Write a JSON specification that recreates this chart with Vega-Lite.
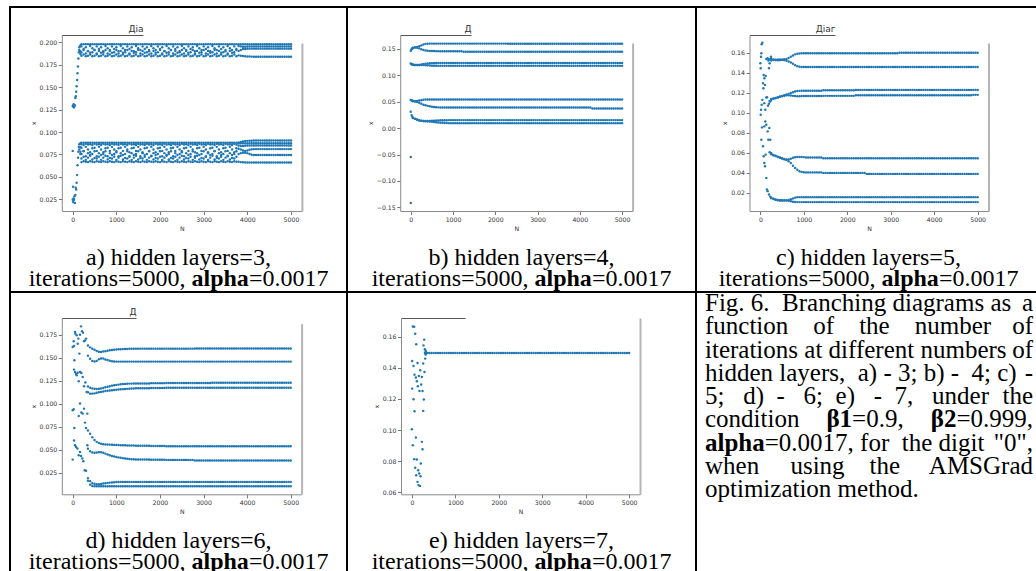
{
"$schema":"https://vega.github.io/schema/vega-lite/v6.json",
"background":"white",
"padding":{"left":9,"top":6,"right":0,"bottom":0},
"columns":3,"spacing":0,"bounds":"flush",
"datasets":{
"A":[
{"n":0,"a":0.129,"e":0.079,"f":0.0245},{"n":10,"a":0.1285,"e":0.039,"f":0.022},{"n":20,"a":0.131,"e":0.026},{"n":30,"a":0.1275,"e":0.0245},{"n":40,"a":0.13,"e":0.0285},{"n":50,"a":0.1295,"e":0.021},{"n":60,"a":0.138,"e":0.03},{"n":70,"a":0.14,"e":0.038},{"n":80,"a":0.145,"e":0.036},{"n":90,"a":0.151,"e":0.0435},{"n":100,"a":0.158,"e":0.052},{"n":110,"a":0.1655,"e":0.063},{"n":120,"a":0.173,"e":0.0715},{"n":130,"a":0.182,"e":0.078},{"n":140,"a":0.189,"e":0.0835},
{"n":150,"a":0.1945,"b":0.1915,"e":0.0865,"f":0.0805},
{"n":175,"a":0.1965,"b":0.19,"c":0.187,"e":0.0875,"f":0.083,"g":0.078,"h":0.0755},
{"n":200,"a":0.198,"b":0.1955,"c":0.189,"d":0.185,"e":0.088,"f":0.0865,"g":0.0825,"h":0.0755,"i":0.0705,"j":0.0665},
{"n":250,"a":0.198,"b":0.1925,"c":0.1915,"d":0.1865,"e":0.088,"f":0.0855,"g":0.079,"h":0.0785,"i":0.0725,"j":0.0675},
{"n":300,"a":0.198,"b":0.1945,"c":0.1875,"d":0.1845,"e":0.088,"f":0.087,"g":0.0835,"h":0.073,"i":0.069,"j":0.067},
{"n":350,"a":0.198,"b":0.19,"c":0.1905,"d":0.185,"e":0.088,"f":0.086,"g":0.0805,"h":0.0765,"i":0.0715,"j":0.0665},
{"n":400,"a":0.198,"b":0.196,"c":0.1885,"d":0.1865,"e":0.088,"f":0.0865,"g":0.0775,"h":0.0745,"i":0.0735,"j":0.0675},
{"n":450,"a":0.198,"b":0.1935,"c":0.189,"d":0.1845,"e":0.088,"f":0.0855,"g":0.082,"h":0.0755,"i":0.0695,"j":0.067},
{"n":500,"a":0.198,"b":0.1915,"c":0.1915,"d":0.185,"e":0.088,"f":0.087,"g":0.0825,"h":0.0785,"i":0.071,"j":0.0665},
{"n":550,"a":0.198,"b":0.1955,"c":0.1875,"d":0.1865,"e":0.088,"f":0.086,"g":0.079,"h":0.073,"i":0.0705,"j":0.0675},
{"n":600,"a":0.198,"b":0.1925,"c":0.1905,"d":0.1845,"e":0.088,"f":0.0865,"g":0.0835,"h":0.0765,"i":0.0725,"j":0.067},
{"n":650,"a":0.198,"b":0.1945,"c":0.1885,"d":0.185,"e":0.088,"f":0.0855,"g":0.0805,"h":0.0745,"i":0.069,"j":0.0665},
{"n":700,"a":0.198,"b":0.19,"c":0.189,"d":0.1865,"e":0.088,"f":0.087,"g":0.0775,"h":0.0755,"i":0.0715,"j":0.0675},
{"n":750,"a":0.198,"b":0.196,"c":0.1915,"d":0.1845,"e":0.088,"f":0.086,"g":0.082,"h":0.0785,"i":0.0735,"j":0.067},
{"n":800,"a":0.198,"b":0.1935,"c":0.1875,"d":0.185,"e":0.088,"f":0.0865,"g":0.0825,"h":0.073,"i":0.0695,"j":0.0665},
{"n":850,"a":0.198,"b":0.1915,"c":0.1905,"d":0.1865,"e":0.088,"f":0.0855,"g":0.079,"h":0.0765,"i":0.071,"j":0.0675},
{"n":900,"a":0.198,"b":0.1955,"c":0.1885,"d":0.1845,"e":0.088,"f":0.087,"g":0.0835,"h":0.0745,"i":0.0705,"j":0.067},
{"n":950,"a":0.198,"b":0.1925,"c":0.189,"d":0.185,"e":0.088,"f":0.086,"g":0.0805,"h":0.0755,"i":0.0725,"j":0.0665},
{"n":1000,"a":0.198,"b":0.1945,"c":0.1915,"d":0.1865,"e":0.088,"f":0.0865,"g":0.0775,"h":0.0785,"i":0.069,"j":0.0675},
{"n":1050,"a":0.198,"b":0.19,"c":0.1875,"d":0.1845,"e":0.088,"f":0.0855,"g":0.082,"h":0.073,"i":0.0715,"j":0.067},
{"n":1100,"a":0.198,"b":0.196,"c":0.1905,"d":0.185,"e":0.088,"f":0.087,"g":0.0825,"h":0.0765,"i":0.0735,"j":0.0665},
{"n":1150,"a":0.198,"b":0.1935,"c":0.1885,"d":0.1865,"e":0.088,"f":0.086,"g":0.079,"h":0.0745,"i":0.0695,"j":0.0675},
{"n":1200,"a":0.198,"b":0.1915,"c":0.189,"d":0.1845,"e":0.088,"f":0.0865,"g":0.0835,"h":0.0755,"i":0.071,"j":0.067},
{"n":1250,"a":0.198,"b":0.1955,"c":0.1915,"d":0.185,"e":0.088,"f":0.0855,"g":0.0805,"h":0.0785,"i":0.0705,"j":0.0665},
{"n":1300,"a":0.198,"b":0.1925,"c":0.1875,"d":0.1865,"e":0.088,"f":0.087,"g":0.0775,"h":0.073,"i":0.0725,"j":0.0675},
{"n":1350,"a":0.198,"b":0.1945,"c":0.1905,"d":0.1845,"e":0.088,"f":0.086,"g":0.082,"h":0.0765,"i":0.069,"j":0.067},
{"n":1400,"a":0.198,"b":0.19,"c":0.1885,"d":0.185,"e":0.088,"f":0.0865,"g":0.0825,"h":0.0745,"i":0.0715,"j":0.0665},
{"n":1450,"a":0.198,"b":0.196,"c":0.189,"d":0.1865,"e":0.088,"f":0.0855,"g":0.079,"h":0.0755,"i":0.0735,"j":0.0675},
{"n":1500,"a":0.198,"b":0.1935,"c":0.1915,"d":0.1845,"e":0.088,"f":0.087,"g":0.0835,"h":0.0785,"i":0.0695,"j":0.067},
{"n":1550,"a":0.198,"b":0.1915,"c":0.1875,"d":0.185,"e":0.088,"f":0.086,"g":0.0805,"h":0.073,"i":0.071,"j":0.0665},
{"n":1600,"a":0.198,"b":0.1955,"c":0.1905,"d":0.1865,"e":0.088,"f":0.0865,"g":0.0775,"h":0.0765,"i":0.0705,"j":0.0675},
{"n":1650,"a":0.198,"b":0.1925,"c":0.1885,"d":0.1845,"e":0.088,"f":0.0855,"g":0.082,"h":0.0745,"i":0.0725,"j":0.067},
{"n":1700,"a":0.198,"b":0.1945,"c":0.189,"d":0.185,"e":0.088,"f":0.087,"g":0.0825,"h":0.0755,"i":0.069,"j":0.0665},
{"n":1750,"a":0.198,"b":0.19,"c":0.1915,"d":0.1865,"e":0.088,"f":0.086,"g":0.079,"h":0.0785,"i":0.0715,"j":0.0675},
{"n":1800,"a":0.198,"b":0.196,"c":0.1875,"d":0.1845,"e":0.088,"f":0.0865,"g":0.0835,"h":0.073,"i":0.0735,"j":0.067},
{"n":1850,"a":0.198,"b":0.1935,"c":0.1905,"d":0.185,"e":0.088,"f":0.0855,"g":0.0805,"h":0.0765,"i":0.0695,"j":0.0665},
{"n":1900,"a":0.198,"b":0.1915,"c":0.1885,"d":0.1865,"e":0.088,"f":0.087,"g":0.0775,"h":0.0745,"i":0.071,"j":0.0675},
{"n":1950,"a":0.198,"b":0.1955,"c":0.189,"d":0.1845,"e":0.088,"f":0.086,"g":0.082,"h":0.0755,"i":0.0705,"j":0.067},
{"n":2000,"a":0.198,"b":0.1925,"c":0.1915,"d":0.185,"e":0.088,"f":0.0865,"g":0.0825,"h":0.0785,"i":0.0725,"j":0.0665},
{"n":2050,"a":0.198,"b":0.1945,"c":0.1875,"d":0.1865,"e":0.088,"f":0.0855,"g":0.079,"h":0.073,"i":0.069,"j":0.0675},
{"n":2100,"a":0.198,"b":0.19,"c":0.1905,"d":0.1845,"e":0.088,"f":0.087,"g":0.0835,"h":0.0765,"i":0.0715,"j":0.067},
{"n":2150,"a":0.198,"b":0.196,"c":0.1885,"d":0.185,"e":0.088,"f":0.086,"g":0.0805,"h":0.0745,"i":0.0735,"j":0.0665},
{"n":2200,"a":0.198,"b":0.1935,"c":0.189,"d":0.1865,"e":0.088,"f":0.0865,"g":0.0775,"h":0.0755,"i":0.0695,"j":0.0675},
{"n":2250,"a":0.198,"b":0.1915,"c":0.1915,"d":0.1845,"e":0.088,"f":0.0855,"g":0.082,"h":0.0785,"i":0.071,"j":0.067},
{"n":2300,"a":0.198,"b":0.1955,"c":0.1875,"d":0.185,"e":0.088,"f":0.087,"g":0.0825,"h":0.073,"i":0.0705,"j":0.0665},
{"n":2350,"a":0.198,"b":0.1925,"c":0.1905,"d":0.1865,"e":0.088,"f":0.086,"g":0.079,"h":0.0765,"i":0.0725,"j":0.0675},
{"n":2400,"a":0.198,"b":0.1945,"c":0.1885,"d":0.1845,"e":0.088,"f":0.0865,"g":0.0835,"h":0.0745,"i":0.069,"j":0.067},
{"n":2450,"a":0.198,"b":0.19,"c":0.189,"d":0.185,"e":0.088,"f":0.0855,"g":0.0805,"h":0.0755,"i":0.0715,"j":0.0665},
{"n":2500,"a":0.198,"b":0.196,"c":0.1915,"d":0.1865,"e":0.088,"f":0.087,"g":0.0775,"h":0.0785,"i":0.0735,"j":0.0675},
{"n":2550,"a":0.198,"b":0.1935,"c":0.1875,"d":0.1845,"e":0.088,"f":0.086,"g":0.082,"h":0.073,"i":0.0695,"j":0.067},
{"n":2600,"a":0.198,"b":0.1915,"c":0.1905,"d":0.185,"e":0.088,"f":0.0865,"g":0.0825,"h":0.0765,"i":0.071,"j":0.0665},
{"n":2650,"a":0.198,"b":0.1955,"c":0.1885,"d":0.1865,"e":0.088,"f":0.0855,"g":0.079,"h":0.0745,"i":0.0705,"j":0.0675},
{"n":2700,"a":0.198,"b":0.1925,"c":0.189,"d":0.1845,"e":0.088,"f":0.087,"g":0.0835,"h":0.0755,"i":0.0725,"j":0.067},
{"n":2750,"a":0.198,"b":0.1945,"c":0.1915,"d":0.185,"e":0.088,"f":0.086,"g":0.0805,"h":0.0785,"i":0.069,"j":0.0665},
{"n":2800,"a":0.198,"b":0.19,"c":0.1875,"d":0.1865,"e":0.088,"f":0.0865,"g":0.0775,"h":0.073,"i":0.0715,"j":0.0675},
{"n":2850,"a":0.198,"b":0.196,"c":0.1905,"d":0.1845,"e":0.088,"f":0.0855,"g":0.082,"h":0.0765,"i":0.0735,"j":0.067},
{"n":2900,"a":0.198,"b":0.1935,"c":0.1885,"d":0.185,"e":0.088,"f":0.087,"g":0.0825,"h":0.0745,"i":0.0695,"j":0.0665},
{"n":2950,"a":0.198,"b":0.1915,"c":0.189,"d":0.1865,"e":0.088,"f":0.086,"g":0.079,"h":0.0755,"i":0.071,"j":0.0675},
{"n":3000,"a":0.198,"b":0.1955,"c":0.1915,"d":0.1845,"e":0.088,"f":0.0865,"g":0.0835,"h":0.0785,"i":0.0705,"j":0.067},
{"n":3050,"a":0.198,"b":0.1925,"c":0.1875,"d":0.185,"e":0.088,"f":0.0855,"g":0.0805,"h":0.073,"i":0.0725,"j":0.0665},
{"n":3100,"a":0.198,"b":0.1945,"c":0.1905,"d":0.1865,"e":0.088,"f":0.087,"g":0.0775,"h":0.0765,"i":0.069,"j":0.0675},
{"n":3150,"a":0.198,"b":0.19,"c":0.1885,"d":0.1845,"e":0.088,"f":0.086,"g":0.082,"h":0.0745,"i":0.0715,"j":0.067},
{"n":3200,"a":0.198,"b":0.196,"c":0.189,"d":0.185,"e":0.088,"f":0.0865,"g":0.0825,"h":0.0755,"i":0.0735,"j":0.0665},
{"n":3250,"a":0.198,"b":0.1935,"c":0.1915,"d":0.1865,"e":0.088,"f":0.0855,"g":0.079,"h":0.0785,"i":0.0695,"j":0.0675},
{"n":3300,"a":0.198,"b":0.1915,"c":0.1875,"d":0.1845,"e":0.088,"f":0.087,"g":0.0835,"h":0.073,"i":0.071,"j":0.067},
{"n":3350,"a":0.198,"b":0.1955,"c":0.1905,"d":0.185,"e":0.088,"f":0.086,"g":0.0805,"h":0.0765,"i":0.0705,"j":0.0665},
{"n":3400,"a":0.198,"b":0.1925,"c":0.1885,"d":0.1865,"e":0.088,"f":0.0865,"g":0.0775,"h":0.0745,"i":0.0725,"j":0.0675},
{"n":3450,"a":0.198,"b":0.1945,"c":0.189,"d":0.1845,"e":0.088,"f":0.0855,"g":0.082,"h":0.0755,"i":0.069,"j":0.067},
{"n":3500,"a":0.198,"b":0.19,"c":0.1915,"d":0.185,"e":0.088,"f":0.087,"g":0.0825,"h":0.0785,"i":0.0715,"j":0.0665},
{"n":3550,"a":0.198,"b":0.196,"c":0.1875,"d":0.1865,"e":0.088,"f":0.086,"g":0.079,"h":0.073,"i":0.0735,"j":0.0675},
{"n":3600,"a":0.198,"b":0.1935,"c":0.1905,"d":0.1845,"e":0.088,"f":0.0865,"g":0.0835,"h":0.0765,"i":0.0695,"j":0.067},
{"n":3650,"a":0.198,"b":0.1915,"c":0.1885,"d":0.185,"e":0.088,"f":0.0855,"g":0.0805,"h":0.0745,"i":0.071,"j":0.0665},
{"n":3700,"a":0.198,"b":0.1955,"c":0.189,"d":0.1865,"e":0.088,"f":0.087,"g":0.0775,"h":0.0755,"i":0.0705,"j":0.0675},
{"n":3750,"a":0.198,"b":0.1925,"c":0.1915,"d":0.1845,"e":0.088,"f":0.086,"g":0.082,"h":0.0785,"i":0.0725,"j":0.067},
{"n":3800,"a":0.198,"b":0.196,"c":0.1905,"d":0.1855,"e":0.0885,"f":0.0875,"g":0.085,"h":0.0815,"i":0.0755,"j":0.067},
{"n":3850,"a":0.198,"b":0.1955,"c":0.1915,"d":0.185,"e":0.089,"f":0.0875,"g":0.0845,"h":0.0805,"i":0.0765,"j":0.0665},
{"n":3900,"a":0.198,"b":0.195,"c":0.1925,"d":0.1848,"e":0.0895,"f":0.0875,"g":0.0845,"h":0.0795,"i":0.077,"j":0.0663},
{"n":3950,"a":0.198,"b":0.195,"c":0.1925,"d":0.1845,"e":0.09,"f":0.0875,"g":0.0848,"h":0.079,"i":0.077,"j":0.0662},
{"n":4000,"a":0.198,"b":0.1953,"c":0.1928,"d":0.1843,"e":0.0902,"f":0.0875,"g":0.085,"h":0.0795,"i":0.0765,"j":0.0661},
{"n":4050,"a":0.198,"b":0.1955,"c":0.193,"d":0.1842,"e":0.0903,"f":0.0875,"g":0.085,"h":0.0802,"i":0.0755,"j":0.066},
{"n":4100,"a":0.198,"b":0.1955,"c":0.193,"d":0.1841,"e":0.0904,"f":0.0875,"g":0.085,"h":0.0808,"i":0.0748,"j":0.066},
{"n":4150,"a":0.198,"b":0.1955,"c":0.193,"d":0.184,"e":0.0905,"f":0.0875,"g":0.085,"h":0.081,"i":0.0745,"j":0.066},
{"n":4200,"a":0.198,"b":0.1955,"c":0.193,"d":0.184,"e":0.0905,"f":0.0875,"g":0.085,"h":0.081,"i":0.0745,"j":0.066},
{"n":4250,"a":0.198,"b":0.1955,"c":0.193,"d":0.184,"e":0.0905,"f":0.0875,"g":0.085,"h":0.081,"i":0.0745,"j":0.066},
{"n":4300,"a":0.198,"b":0.1955,"c":0.193,"d":0.184,"e":0.0905,"f":0.0875,"g":0.085,"h":0.081,"i":0.0745,"j":0.066},
{"n":4350,"a":0.198,"b":0.1955,"c":0.193,"d":0.184,"e":0.0905,"f":0.0875,"g":0.085,"h":0.081,"i":0.0745,"j":0.066},
{"n":4400,"a":0.198,"b":0.1955,"c":0.193,"d":0.184,"e":0.0905,"f":0.0875,"g":0.085,"h":0.081,"i":0.0745,"j":0.066},
{"n":4450,"a":0.198,"b":0.1955,"c":0.193,"d":0.184,"e":0.0905,"f":0.0875,"g":0.085,"h":0.081,"i":0.0745,"j":0.066},
{"n":4500,"a":0.198,"b":0.1955,"c":0.193,"d":0.184,"e":0.0905,"f":0.0875,"g":0.085,"h":0.081,"i":0.0745,"j":0.066},
{"n":4550,"a":0.198,"b":0.1955,"c":0.193,"d":0.184,"e":0.0905,"f":0.0875,"g":0.085,"h":0.081,"i":0.0745,"j":0.066},
{"n":4600,"a":0.198,"b":0.1955,"c":0.193,"d":0.184,"e":0.0905,"f":0.0875,"g":0.085,"h":0.081,"i":0.0745,"j":0.066},
{"n":4650,"a":0.198,"b":0.1955,"c":0.193,"d":0.184,"e":0.0905,"f":0.0875,"g":0.085,"h":0.081,"i":0.0745,"j":0.066},
{"n":4700,"a":0.198,"b":0.1955,"c":0.193,"d":0.184,"e":0.0905,"f":0.0875,"g":0.085,"h":0.081,"i":0.0745,"j":0.066},
{"n":4750,"a":0.198,"b":0.1955,"c":0.193,"d":0.184,"e":0.0905,"f":0.0875,"g":0.085,"h":0.081,"i":0.0745,"j":0.066},
{"n":4800,"a":0.198,"b":0.1955,"c":0.193,"d":0.184,"e":0.0905,"f":0.0875,"g":0.085,"h":0.081,"i":0.0745,"j":0.066},
{"n":4850,"a":0.198,"b":0.1955,"c":0.193,"d":0.184,"e":0.0905,"f":0.0875,"g":0.085,"h":0.081,"i":0.0745,"j":0.066},
{"n":4900,"a":0.198,"b":0.1955,"c":0.193,"d":0.184,"e":0.0905,"f":0.0875,"g":0.085,"h":0.081,"i":0.0745,"j":0.066},
{"n":4950,"a":0.198,"b":0.1955,"c":0.193,"d":0.184,"e":0.0905,"f":0.0875,"g":0.085,"h":0.081,"i":0.0745,"j":0.066},
{"n":5000,"a":0.198,"b":0.1955,"c":0.193,"d":0.184,"e":0.0905,"f":0.0875,"g":0.085,"h":0.081,"i":0.0745,"j":0.066}
],
"B":[
{"n":0,"a":0.1468,"c":0.1225,"e":0.0532,"g":0.031,"b":-0.0545,"d":-0.1418},
{"n":20,"a":0.1494,"c":0.121,"e":0.0525,"g":0.0247},
{"n":40,"a":0.151,"c":0.1205,"e":0.052,"g":0.0215},
{"n":50,"a":0.1522,"b":0.1518,"c":0.1202,"d":0.12,"e":0.0515,"f":0.0512,"g":0.0195,"h":0.0193},
{"n":100,"a":0.1532,"b":0.1526,"c":0.1198,"d":0.1196,"e":0.051,"f":0.0505,"g":0.0178,"h":0.0176},
{"n":150,"a":0.1538,"b":0.1522,"c":0.1196,"d":0.1195,"e":0.0515,"f":0.0495,"g":0.0162,"h":0.016},
{"n":200,"a":0.155,"b":0.1512,"c":0.1198,"d":0.1195,"e":0.0522,"f":0.048,"g":0.0148,"h":0.0146},
{"n":250,"a":0.1568,"b":0.1495,"c":0.1205,"d":0.1197,"e":0.053,"f":0.0462,"g":0.0141,"h":0.0138},
{"n":300,"a":0.1585,"b":0.1482,"c":0.1215,"d":0.1196,"e":0.0537,"f":0.0445,"g":0.0137,"h":0.0134},
{"n":350,"a":0.1597,"b":0.1472,"c":0.1222,"d":0.1193,"e":0.0542,"f":0.0432,"g":0.0135,"h":0.0131},
{"n":400,"a":0.1601,"b":0.1466,"c":0.1227,"d":0.119,"e":0.0543,"f":0.0422,"g":0.0136,"h":0.0128},
{"n":450,"a":0.1602,"b":0.1463,"c":0.123,"d":0.1187,"e":0.0544,"f":0.0414,"g":0.0138,"h":0.0124},
{"n":500,"a":0.1602,"b":0.1461,"c":0.1232,"d":0.1184,"e":0.0544,"f":0.0407,"g":0.014,"h":0.012},
{"n":550,"a":0.1602,"b":0.146,"c":0.1233,"d":0.1182,"e":0.0544,"f":0.0401,"g":0.0142,"h":0.0116},
{"n":600,"a":0.1602,"b":0.1459,"c":0.1233,"d":0.1181,"e":0.0544,"f":0.0397,"g":0.0144,"h":0.0112},
{"n":650,"a":0.1602,"b":0.1459,"c":0.1234,"d":0.118,"e":0.0544,"f":0.0394,"g":0.0146,"h":0.0108},
{"n":700,"a":0.1602,"b":0.1458,"c":0.1234,"d":0.118,"e":0.0544,"f":0.0392,"g":0.0148,"h":0.0104},
{"n":750,"a":0.1602,"b":0.1458,"c":0.1234,"d":0.118,"e":0.0544,"f":0.0391,"g":0.0149,"h":0.0101},
{"n":800,"a":0.1602,"b":0.1458,"c":0.1234,"d":0.118,"e":0.0544,"f":0.039,"g":0.015,"h":0.0098},
{"n":850,"a":0.1602,"b":0.1458,"c":0.1234,"d":0.118,"e":0.0544,"f":0.039,"g":0.0151,"h":0.0096},
{"n":900,"a":0.1602,"b":0.1457,"c":0.1234,"d":0.118,"e":0.0544,"f":0.039,"g":0.0152,"h":0.0095},
{"n":950,"a":0.1602,"b":0.1457,"c":0.1234,"d":0.118,"e":0.0544,"f":0.039,"g":0.0152,"h":0.0095},
{"n":1000,"a":0.1602,"b":0.1457,"c":0.1234,"d":0.118,"e":0.0544,"f":0.039,"g":0.0152,"h":0.0095},
{"n":1050,"a":0.1602,"b":0.1457,"c":0.1234,"d":0.118,"e":0.0544,"f":0.039,"g":0.0152,"h":0.0095},
{"n":1100,"a":0.1602,"b":0.1457,"c":0.1234,"d":0.118,"e":0.0544,"f":0.039,"g":0.0152,"h":0.0095},
{"n":1150,"a":0.1602,"b":0.1457,"c":0.1234,"d":0.118,"e":0.0544,"f":0.039,"g":0.0152,"h":0.0095},
{"n":1200,"a":0.1602,"b":0.1457,"c":0.1234,"d":0.118,"e":0.0544,"f":0.039,"g":0.0152,"h":0.0095},
{"n":1250,"a":0.1602,"b":0.1447,"c":0.1234,"d":0.118,"e":0.0544,"f":0.039,"g":0.0152,"h":0.0095},
{"n":1300,"a":0.1602,"b":0.1447,"c":0.1234,"d":0.118,"e":0.0544,"f":0.039,"g":0.0152,"h":0.0095},
{"n":1350,"a":0.1602,"b":0.1447,"c":0.1234,"d":0.118,"e":0.0544,"f":0.039,"g":0.0152,"h":0.0095},
{"n":1400,"a":0.1602,"b":0.1447,"c":0.1234,"d":0.118,"e":0.0544,"f":0.039,"g":0.0152,"h":0.0095},
{"n":1450,"a":0.1602,"b":0.1447,"c":0.1234,"d":0.118,"e":0.0544,"f":0.039,"g":0.0152,"h":0.0095},
{"n":1500,"a":0.1602,"b":0.1447,"c":0.1234,"d":0.118,"e":0.0544,"f":0.039,"g":0.0152,"h":0.0095},
{"n":1550,"a":0.1602,"b":0.1447,"c":0.1234,"d":0.118,"e":0.0544,"f":0.039,"g":0.0152,"h":0.0095},
{"n":1600,"a":0.1602,"b":0.1447,"c":0.1234,"d":0.118,"e":0.0544,"f":0.039,"g":0.0152,"h":0.0095},
{"n":1650,"a":0.1602,"b":0.1447,"c":0.1234,"d":0.118,"e":0.0544,"f":0.039,"g":0.0152,"h":0.0095},
{"n":1700,"a":0.1602,"b":0.1447,"c":0.1234,"d":0.118,"e":0.0544,"f":0.039,"g":0.0152,"h":0.0095},
{"n":1750,"a":0.1602,"b":0.1447,"c":0.1234,"d":0.118,"e":0.0544,"f":0.039,"g":0.0152,"h":0.0095},
{"n":1800,"a":0.1602,"b":0.1447,"c":0.1234,"d":0.118,"e":0.0544,"f":0.039,"g":0.0152,"h":0.0095},
{"n":1850,"a":0.1602,"b":0.1447,"c":0.1234,"d":0.118,"e":0.0544,"f":0.039,"g":0.0152,"h":0.0095},
{"n":1900,"a":0.1602,"b":0.1447,"c":0.1234,"d":0.118,"e":0.0544,"f":0.039,"g":0.0152,"h":0.0095},
{"n":1950,"a":0.1602,"b":0.1447,"c":0.1234,"d":0.118,"e":0.0544,"f":0.039,"g":0.0152,"h":0.0095},
{"n":2000,"a":0.1602,"b":0.1447,"c":0.1234,"d":0.118,"e":0.0544,"f":0.039,"g":0.0152,"h":0.0095},
{"n":2050,"a":0.1602,"b":0.1447,"c":0.1234,"d":0.118,"e":0.0544,"f":0.039,"g":0.0152,"h":0.0095},
{"n":2100,"a":0.1602,"b":0.1447,"c":0.1234,"d":0.118,"e":0.0544,"f":0.039,"g":0.0152,"h":0.0095},
{"n":2150,"a":0.1602,"b":0.1447,"c":0.1234,"d":0.118,"e":0.0544,"f":0.039,"g":0.0152,"h":0.0095},
{"n":2200,"a":0.1602,"b":0.1447,"c":0.1234,"d":0.118,"e":0.0544,"f":0.039,"g":0.0152,"h":0.0095},
{"n":2250,"a":0.1602,"b":0.1447,"c":0.1234,"d":0.118,"e":0.0544,"f":0.039,"g":0.0152,"h":0.0095},
{"n":2300,"a":0.16,"b":0.1447,"c":0.1234,"d":0.118,"e":0.0544,"f":0.039,"g":0.0152,"h":0.0095},
{"n":2350,"a":0.16,"b":0.1447,"c":0.1234,"d":0.118,"e":0.0544,"f":0.039,"g":0.0152,"h":0.0095},
{"n":2400,"a":0.16,"b":0.1447,"c":0.1234,"d":0.118,"e":0.0544,"f":0.039,"g":0.0152,"h":0.0095},
{"n":2450,"a":0.16,"b":0.1447,"c":0.1234,"d":0.118,"e":0.0544,"f":0.039,"g":0.0152,"h":0.0095},
{"n":2500,"a":0.16,"b":0.1447,"c":0.1234,"d":0.118,"e":0.0544,"f":0.039,"g":0.0152,"h":0.0095},
{"n":2550,"a":0.16,"b":0.1447,"c":0.1234,"d":0.118,"e":0.0544,"f":0.039,"g":0.0152,"h":0.0095},
{"n":2600,"a":0.16,"b":0.1447,"c":0.1234,"d":0.118,"e":0.0544,"f":0.039,"g":0.0152,"h":0.0095},
{"n":2650,"a":0.16,"b":0.1447,"c":0.1234,"d":0.118,"e":0.0544,"f":0.039,"g":0.0152,"h":0.0095},
{"n":2700,"a":0.16,"b":0.1447,"c":0.1234,"d":0.118,"e":0.0544,"f":0.039,"g":0.0152,"h":0.0095},
{"n":2750,"a":0.16,"b":0.1447,"c":0.1234,"d":0.118,"e":0.0544,"f":0.039,"g":0.0152,"h":0.0095},
{"n":2800,"a":0.16,"b":0.1447,"c":0.1234,"d":0.118,"e":0.0544,"f":0.039,"g":0.0152,"h":0.0095},
{"n":2850,"a":0.16,"b":0.1447,"c":0.1234,"d":0.118,"e":0.0544,"f":0.039,"g":0.0152,"h":0.0095},
{"n":2900,"a":0.16,"b":0.1447,"c":0.1234,"d":0.118,"e":0.0544,"f":0.039,"g":0.0152,"h":0.0095},
{"n":2950,"a":0.16,"b":0.1447,"c":0.1234,"d":0.118,"e":0.0544,"f":0.039,"g":0.0152,"h":0.0095},
{"n":3000,"a":0.16,"b":0.1447,"c":0.1234,"d":0.118,"e":0.0544,"f":0.039,"g":0.0152,"h":0.0095},
{"n":3050,"a":0.16,"b":0.1447,"c":0.1234,"d":0.118,"e":0.0544,"f":0.039,"g":0.0152,"h":0.0095},
{"n":3100,"a":0.16,"b":0.1447,"c":0.1234,"d":0.118,"e":0.0544,"f":0.039,"g":0.0152,"h":0.0095},
{"n":3150,"a":0.16,"b":0.1447,"c":0.1234,"d":0.118,"e":0.0544,"f":0.039,"g":0.0152,"h":0.0095},
{"n":3200,"a":0.16,"b":0.1447,"c":0.1234,"d":0.118,"e":0.0544,"f":0.039,"g":0.0152,"h":0.0095},
{"n":3250,"a":0.16,"b":0.1447,"c":0.1234,"d":0.118,"e":0.0544,"f":0.039,"g":0.0152,"h":0.0095},
{"n":3300,"a":0.16,"b":0.1447,"c":0.1234,"d":0.118,"e":0.0544,"f":0.039,"g":0.0152,"h":0.0095},
{"n":3350,"a":0.16,"b":0.1447,"c":0.1234,"d":0.118,"e":0.0544,"f":0.039,"g":0.0152,"h":0.0095},
{"n":3400,"a":0.16,"b":0.1447,"c":0.1234,"d":0.118,"e":0.0544,"f":0.039,"g":0.0152,"h":0.0095},
{"n":3450,"a":0.16,"b":0.1447,"c":0.1234,"d":0.118,"e":0.0544,"f":0.039,"g":0.0152,"h":0.0095},
{"n":3500,"a":0.16,"b":0.1447,"c":0.1234,"d":0.118,"e":0.0544,"f":0.039,"g":0.0152,"h":0.0095},
{"n":3550,"a":0.16,"b":0.1447,"c":0.1234,"d":0.118,"e":0.0544,"f":0.039,"g":0.0152,"h":0.0095},
{"n":3600,"a":0.16,"b":0.1447,"c":0.1234,"d":0.118,"e":0.0544,"f":0.039,"g":0.0152,"h":0.0095},
{"n":3650,"a":0.16,"b":0.1447,"c":0.1234,"d":0.118,"e":0.0544,"f":0.039,"g":0.0152,"h":0.0095},
{"n":3700,"a":0.16,"b":0.1447,"c":0.1234,"d":0.118,"e":0.0544,"f":0.039,"g":0.0152,"h":0.0095},
{"n":3750,"a":0.16,"b":0.1447,"c":0.1234,"d":0.118,"e":0.0544,"f":0.039,"g":0.0152,"h":0.0095},
{"n":3800,"a":0.16,"b":0.1447,"c":0.1234,"d":0.118,"e":0.0544,"f":0.039,"g":0.0152,"h":0.0095},
{"n":3850,"a":0.16,"b":0.1447,"c":0.1234,"d":0.118,"e":0.0544,"f":0.039,"g":0.0152,"h":0.0095},
{"n":3900,"a":0.16,"b":0.1447,"c":0.1234,"d":0.118,"e":0.0544,"f":0.039,"g":0.0152,"h":0.0095},
{"n":3950,"a":0.16,"b":0.1447,"c":0.1234,"d":0.118,"e":0.0544,"f":0.039,"g":0.0152,"h":0.0095},
{"n":4000,"a":0.16,"b":0.1447,"c":0.1234,"d":0.118,"e":0.0544,"f":0.039,"g":0.0152,"h":0.0095},
{"n":4050,"a":0.16,"b":0.1447,"c":0.1234,"d":0.118,"e":0.0544,"f":0.039,"g":0.0152,"h":0.0095},
{"n":4100,"a":0.16,"b":0.1447,"c":0.1234,"d":0.118,"e":0.0544,"f":0.039,"g":0.0152,"h":0.0095},
{"n":4150,"a":0.16,"b":0.1447,"c":0.1234,"d":0.118,"e":0.0544,"f":0.039,"g":0.0152,"h":0.0095},
{"n":4200,"a":0.16,"b":0.1447,"c":0.1234,"d":0.118,"e":0.0544,"f":0.039,"g":0.0152,"h":0.0095},
{"n":4250,"a":0.16,"b":0.1447,"c":0.1234,"d":0.118,"e":0.0544,"f":0.039,"g":0.0152,"h":0.0095},
{"n":4300,"a":0.16,"b":0.1447,"c":0.1234,"d":0.118,"e":0.0544,"f":0.0374,"g":0.0152,"h":0.0095},
{"n":4350,"a":0.16,"b":0.1447,"c":0.1234,"d":0.118,"e":0.0544,"f":0.0374,"g":0.0152,"h":0.0095},
{"n":4400,"a":0.16,"b":0.1447,"c":0.1234,"d":0.118,"e":0.0544,"f":0.0374,"g":0.0152,"h":0.0095},
{"n":4450,"a":0.16,"b":0.1447,"c":0.1234,"d":0.118,"e":0.0544,"f":0.0374,"g":0.0152,"h":0.0095},
{"n":4500,"a":0.16,"b":0.1447,"c":0.1234,"d":0.118,"e":0.0544,"f":0.0374,"g":0.0152,"h":0.0095},
{"n":4550,"a":0.16,"b":0.1447,"c":0.1234,"d":0.118,"e":0.0544,"f":0.0374,"g":0.0152,"h":0.0095},
{"n":4600,"a":0.16,"b":0.1447,"c":0.1234,"d":0.118,"e":0.0544,"f":0.0374,"g":0.0152,"h":0.0095},
{"n":4650,"a":0.16,"b":0.1447,"c":0.1234,"d":0.118,"e":0.0544,"f":0.0374,"g":0.0152,"h":0.0095},
{"n":4700,"a":0.16,"b":0.1447,"c":0.1234,"d":0.118,"e":0.0544,"f":0.0374,"g":0.0152,"h":0.0095},
{"n":4750,"a":0.16,"b":0.1447,"c":0.1234,"d":0.118,"e":0.0544,"f":0.0374,"g":0.0152,"h":0.0095},
{"n":4800,"a":0.16,"b":0.1447,"c":0.1234,"d":0.118,"e":0.0544,"f":0.0374,"g":0.0152,"h":0.0095},
{"n":4850,"a":0.16,"b":0.1447,"c":0.1234,"d":0.118,"e":0.0544,"f":0.0374,"g":0.0152,"h":0.0095},
{"n":4900,"a":0.16,"b":0.1447,"c":0.1234,"d":0.118,"e":0.0544,"f":0.0374,"g":0.0152,"h":0.0095},
{"n":4950,"a":0.16,"b":0.1447,"c":0.1234,"d":0.118,"e":0.0544,"f":0.0374,"g":0.0152,"h":0.0095},
{"n":5000,"a":0.16,"b":0.1447,"c":0.1234,"d":0.118,"e":0.0544,"f":0.0374,"g":0.0152,"h":0.0095}
],
"C":[
{"n":0,"a":0.1497},{"n":8,"a":0.1447,"b":0.098},{"n":15,"a":0.1563,"b":0.103},{"n":23,"a":0.1597,"b":0.0731},{"n":30,"a":0.1687,"b":0.108},{"n":38,"a":0.0854},{"n":46,"a":0.1703,"b":0.113},{"n":61,"a":0.1297,"b":0.0664},{"n":69,"a":0.1247},{"n":76,"a":0.138,"b":0.0564},{"n":91,"a":0.1347,"b":0.1097,"c":0.0864,"d":0.0497},{"n":107,"a":0.128,"b":0.0464},{"n":114,"a":0.103,"b":0.0914},{"n":122,"a":0.137,"b":0.0581},{"n":137,"a":0.154,"b":0.1154,"c":0.088,"d":0.0348},{"n":152,"a":0.1157,"b":0.0231},{"n":168,"a":0.1547,"b":0.0814,"c":0.0215},{"n":175,"a":0.107},{"n":183,"a":0.0731,"b":0.1525},{"n":198,"a":0.1447,"b":0.109,"c":0.0181,"d":0.1535},{"n":206,"a":0.0847},{"n":213,"a":0.1497,"b":0.1118,"c":0.0605},{"n":229,"a":0.1114,"b":0.0731,"c":0.0158,"d":0.1538},{"n":244,"a":0.1563,"b":0.0598},
{"n":250,"a":0.1545,"b":0.1525,"c":0.1138,"d":0.1132,"e":0.0592,"f":0.0585,"g":0.015,"h":0.0145},
{"n":300,"a":0.1535,"b":0.153,"c":0.1145,"d":0.1141,"e":0.0578,"f":0.0574,"g":0.0139,"h":0.0136},
{"n":350,"a":0.153,"b":0.1532,"c":0.115,"d":0.1147,"e":0.0569,"f":0.0566,"g":0.0131,"h":0.0128},
{"n":400,"a":0.1527,"b":0.1535,"c":0.1157,"d":0.1153,"e":0.0561,"f":0.0558,"g":0.0126,"h":0.0124},
{"n":450,"a":0.1528,"b":0.1535,"c":0.1163,"d":0.116,"e":0.0553,"f":0.055,"g":0.0124,"h":0.0122},
{"n":500,"a":0.1532,"b":0.1532,"c":0.117,"d":0.1166,"e":0.0545,"f":0.0542,"g":0.0123,"h":0.0121},
{"n":550,"a":0.1536,"b":0.1528,"c":0.1176,"d":0.1171,"e":0.0538,"f":0.0535,"g":0.0123,"h":0.0121},
{"n":600,"a":0.154,"b":0.1522,"c":0.1183,"d":0.1176,"e":0.0533,"f":0.0528,"g":0.0124,"h":0.012},
{"n":650,"a":0.155,"b":0.1515,"c":0.119,"d":0.1175,"e":0.0535,"f":0.0515,"g":0.0127,"h":0.0118},
{"n":700,"a":0.1562,"b":0.1505,"c":0.1199,"d":0.1173,"e":0.054,"f":0.0498,"g":0.0133,"h":0.0113},
{"n":750,"a":0.1575,"b":0.1492,"c":0.1207,"d":0.117,"e":0.0549,"f":0.047,"g":0.0142,"h":0.0108},
{"n":800,"a":0.1586,"b":0.1478,"c":0.1214,"d":0.1168,"e":0.0554,"f":0.0448,"g":0.015,"h":0.0106},
{"n":850,"a":0.1592,"b":0.1468,"c":0.1218,"d":0.1167,"e":0.0557,"f":0.043,"g":0.0155,"h":0.0105},
{"n":900,"a":0.1595,"b":0.1462,"c":0.122,"d":0.1167,"e":0.0557,"f":0.0414,"g":0.0155,"h":0.0105},
{"n":950,"a":0.1597,"b":0.146,"c":0.1222,"d":0.1168,"e":0.0557,"f":0.0408,"g":0.0155,"h":0.0105},
{"n":1000,"a":0.1597,"b":0.146,"c":0.1222,"d":0.1168,"e":0.0556,"f":0.0405,"g":0.0155,"h":0.0105},
{"n":1050,"a":0.1597,"b":0.146,"c":0.1222,"d":0.1168,"e":0.0553,"f":0.0403,"g":0.0155,"h":0.0105},
{"n":1100,"a":0.1597,"b":0.146,"c":0.1222,"d":0.1168,"e":0.0553,"f":0.0403,"g":0.0155,"h":0.0105},
{"n":1150,"a":0.1597,"b":0.146,"c":0.1222,"d":0.1168,"e":0.0553,"f":0.0403,"g":0.0155,"h":0.0105},
{"n":1200,"a":0.1597,"b":0.146,"c":0.1222,"d":0.1168,"e":0.0553,"f":0.0403,"g":0.0155,"h":0.0105},
{"n":1250,"a":0.1597,"b":0.146,"c":0.1222,"d":0.1168,"e":0.0553,"f":0.0403,"g":0.0155,"h":0.0105},
{"n":1300,"a":0.1597,"b":0.146,"c":0.1222,"d":0.1168,"e":0.0553,"f":0.0403,"g":0.0155,"h":0.0105},
{"n":1350,"a":0.1597,"b":0.146,"c":0.1222,"d":0.1168,"e":0.0553,"f":0.0403,"g":0.0155,"h":0.0105},
{"n":1400,"a":0.1597,"b":0.146,"c":0.1222,"d":0.1168,"e":0.0553,"f":0.0403,"g":0.0155,"h":0.0105},
{"n":1450,"a":0.1597,"b":0.146,"c":0.1227,"d":0.117,"e":0.0544,"f":0.0398,"g":0.0155,"h":0.0105},
{"n":1500,"a":0.1597,"b":0.146,"c":0.1227,"d":0.117,"e":0.0544,"f":0.0398,"g":0.0155,"h":0.0105},
{"n":1550,"a":0.1597,"b":0.146,"c":0.1227,"d":0.117,"e":0.0544,"f":0.0398,"g":0.0155,"h":0.0105},
{"n":1600,"a":0.1597,"b":0.146,"c":0.1227,"d":0.117,"e":0.0544,"f":0.0398,"g":0.0155,"h":0.0105},
{"n":1650,"a":0.1597,"b":0.146,"c":0.1227,"d":0.117,"e":0.0544,"f":0.0398,"g":0.0155,"h":0.0105},
{"n":1700,"a":0.1597,"b":0.146,"c":0.1227,"d":0.117,"e":0.0544,"f":0.0398,"g":0.0155,"h":0.0105},
{"n":1750,"a":0.1597,"b":0.146,"c":0.1227,"d":0.117,"e":0.0544,"f":0.0398,"g":0.0155,"h":0.0105},
{"n":1800,"a":0.1597,"b":0.146,"c":0.1227,"d":0.117,"e":0.0544,"f":0.0398,"g":0.0155,"h":0.0105},
{"n":1850,"a":0.1597,"b":0.146,"c":0.1227,"d":0.117,"e":0.0544,"f":0.0398,"g":0.0155,"h":0.0105},
{"n":1900,"a":0.1597,"b":0.146,"c":0.1227,"d":0.117,"e":0.0544,"f":0.0398,"g":0.0155,"h":0.0105},
{"n":1950,"a":0.1597,"b":0.146,"c":0.1227,"d":0.117,"e":0.0544,"f":0.0398,"g":0.0155,"h":0.0105},
{"n":2000,"a":0.1597,"b":0.146,"c":0.1227,"d":0.117,"e":0.0544,"f":0.0398,"g":0.0155,"h":0.0105},
{"n":2050,"a":0.1597,"b":0.146,"c":0.1227,"d":0.117,"e":0.0544,"f":0.0398,"g":0.0155,"h":0.0105},
{"n":2100,"a":0.1597,"b":0.146,"c":0.1227,"d":0.117,"e":0.0544,"f":0.0398,"g":0.0155,"h":0.0105},
{"n":2150,"a":0.1597,"b":0.146,"c":0.1227,"d":0.117,"e":0.0544,"f":0.0398,"g":0.0155,"h":0.0105},
{"n":2200,"a":0.1597,"b":0.146,"c":0.123,"d":0.1177,"e":0.0544,"f":0.0398,"g":0.0155,"h":0.0105},
{"n":2250,"a":0.1597,"b":0.146,"c":0.123,"d":0.1177,"e":0.0544,"f":0.0398,"g":0.0155,"h":0.0105},
{"n":2300,"a":0.1597,"b":0.146,"c":0.123,"d":0.1177,"e":0.0544,"f":0.0398,"g":0.0155,"h":0.0105},
{"n":2350,"a":0.1597,"b":0.146,"c":0.123,"d":0.1177,"e":0.0544,"f":0.0398,"g":0.0155,"h":0.0105},
{"n":2400,"a":0.1597,"b":0.146,"c":0.123,"d":0.1177,"e":0.0544,"f":0.0398,"g":0.0155,"h":0.0105},
{"n":2450,"a":0.1597,"b":0.146,"c":0.123,"d":0.1177,"e":0.0544,"f":0.0388,"g":0.0155,"h":0.0105},
{"n":2500,"a":0.1597,"b":0.146,"c":0.123,"d":0.1177,"e":0.0544,"f":0.0388,"g":0.0155,"h":0.0105},
{"n":2550,"a":0.1597,"b":0.146,"c":0.123,"d":0.1177,"e":0.0544,"f":0.0388,"g":0.0155,"h":0.0105},
{"n":2600,"a":0.1597,"b":0.146,"c":0.123,"d":0.1177,"e":0.0544,"f":0.0388,"g":0.0155,"h":0.0105},
{"n":2650,"a":0.1597,"b":0.146,"c":0.123,"d":0.1177,"e":0.0544,"f":0.0388,"g":0.0155,"h":0.0105},
{"n":2700,"a":0.1597,"b":0.146,"c":0.123,"d":0.1177,"e":0.0544,"f":0.0388,"g":0.0155,"h":0.0105},
{"n":2750,"a":0.1597,"b":0.146,"c":0.123,"d":0.1177,"e":0.0544,"f":0.0388,"g":0.0155,"h":0.0105},
{"n":2800,"a":0.1597,"b":0.146,"c":0.123,"d":0.1177,"e":0.0544,"f":0.0388,"g":0.0155,"h":0.0105},
{"n":2850,"a":0.1597,"b":0.146,"c":0.123,"d":0.1177,"e":0.0544,"f":0.0388,"g":0.0155,"h":0.0105},
{"n":2900,"a":0.1597,"b":0.146,"c":0.123,"d":0.1177,"e":0.0544,"f":0.0388,"g":0.0155,"h":0.0105},
{"n":2950,"a":0.1597,"b":0.146,"c":0.123,"d":0.1177,"e":0.0544,"f":0.0388,"g":0.0155,"h":0.0105},
{"n":3000,"a":0.1597,"b":0.146,"c":0.123,"d":0.1177,"e":0.0544,"f":0.0388,"g":0.0155,"h":0.0105},
{"n":3050,"a":0.1597,"b":0.146,"c":0.123,"d":0.1177,"e":0.0544,"f":0.0388,"g":0.0155,"h":0.0105},
{"n":3100,"a":0.1597,"b":0.146,"c":0.123,"d":0.1177,"e":0.0544,"f":0.0388,"g":0.0155,"h":0.0105},
{"n":3150,"a":0.1597,"b":0.146,"c":0.123,"d":0.1177,"e":0.0544,"f":0.0388,"g":0.0155,"h":0.0105},
{"n":3200,"a":0.1603,"b":0.146,"c":0.123,"d":0.1177,"e":0.0544,"f":0.0388,"g":0.0155,"h":0.0105},
{"n":3250,"a":0.1603,"b":0.146,"c":0.123,"d":0.1177,"e":0.0544,"f":0.0388,"g":0.0155,"h":0.0105},
{"n":3300,"a":0.1603,"b":0.146,"c":0.123,"d":0.1177,"e":0.0544,"f":0.0388,"g":0.0155,"h":0.0105},
{"n":3350,"a":0.1603,"b":0.146,"c":0.123,"d":0.1177,"e":0.0544,"f":0.0388,"g":0.0155,"h":0.0105},
{"n":3400,"a":0.1603,"b":0.146,"c":0.123,"d":0.1177,"e":0.0544,"f":0.0388,"g":0.0155,"h":0.0105},
{"n":3450,"a":0.1603,"b":0.146,"c":0.123,"d":0.1177,"e":0.0544,"f":0.0388,"g":0.0155,"h":0.0105},
{"n":3500,"a":0.1603,"b":0.146,"c":0.123,"d":0.1177,"e":0.0544,"f":0.0388,"g":0.0155,"h":0.0105},
{"n":3550,"a":0.1603,"b":0.146,"c":0.123,"d":0.1177,"e":0.0544,"f":0.0388,"g":0.0155,"h":0.0105},
{"n":3600,"a":0.1603,"b":0.146,"c":0.123,"d":0.1177,"e":0.0544,"f":0.0388,"g":0.0155,"h":0.0105},
{"n":3650,"a":0.1603,"b":0.146,"c":0.123,"d":0.1177,"e":0.0544,"f":0.0388,"g":0.0155,"h":0.0105},
{"n":3700,"a":0.1603,"b":0.146,"c":0.123,"d":0.1177,"e":0.0544,"f":0.0388,"g":0.0155,"h":0.0105},
{"n":3750,"a":0.1603,"b":0.146,"c":0.123,"d":0.1177,"e":0.0544,"f":0.0388,"g":0.0155,"h":0.0105},
{"n":3800,"a":0.1603,"b":0.146,"c":0.123,"d":0.1177,"e":0.0544,"f":0.0388,"g":0.0155,"h":0.0105},
{"n":3850,"a":0.1603,"b":0.146,"c":0.123,"d":0.1177,"e":0.0544,"f":0.0388,"g":0.0155,"h":0.0105},
{"n":3900,"a":0.1603,"b":0.146,"c":0.123,"d":0.1177,"e":0.0544,"f":0.0388,"g":0.0155,"h":0.0105},
{"n":3950,"a":0.1603,"b":0.146,"c":0.123,"d":0.1177,"e":0.0544,"f":0.0388,"g":0.0155,"h":0.0105},
{"n":4000,"a":0.1603,"b":0.146,"c":0.123,"d":0.1177,"e":0.0544,"f":0.0388,"g":0.0155,"h":0.0105},
{"n":4050,"a":0.1603,"b":0.146,"c":0.123,"d":0.1177,"e":0.0544,"f":0.0388,"g":0.0155,"h":0.0105},
{"n":4100,"a":0.1603,"b":0.146,"c":0.123,"d":0.1177,"e":0.0544,"f":0.0388,"g":0.0155,"h":0.0105},
{"n":4150,"a":0.1603,"b":0.146,"c":0.123,"d":0.1177,"e":0.0544,"f":0.0388,"g":0.0155,"h":0.0105},
{"n":4200,"a":0.1603,"b":0.146,"c":0.123,"d":0.1177,"e":0.0544,"f":0.0388,"g":0.0155,"h":0.0105},
{"n":4250,"a":0.1603,"b":0.146,"c":0.123,"d":0.1177,"e":0.0544,"f":0.0388,"g":0.0155,"h":0.0105},
{"n":4300,"a":0.1603,"b":0.146,"c":0.123,"d":0.1177,"e":0.0544,"f":0.0388,"g":0.0155,"h":0.0105},
{"n":4350,"a":0.1603,"b":0.146,"c":0.123,"d":0.1177,"e":0.0544,"f":0.0388,"g":0.0155,"h":0.0105},
{"n":4400,"a":0.1603,"b":0.146,"c":0.123,"d":0.1177,"e":0.0544,"f":0.0388,"g":0.0155,"h":0.0105},
{"n":4450,"a":0.1603,"b":0.146,"c":0.123,"d":0.1177,"e":0.0544,"f":0.0388,"g":0.0155,"h":0.0105},
{"n":4500,"a":0.1603,"b":0.146,"c":0.123,"d":0.1177,"e":0.0544,"f":0.0388,"g":0.0155,"h":0.0105},
{"n":4550,"a":0.1603,"b":0.146,"c":0.123,"d":0.1177,"e":0.0544,"f":0.0388,"g":0.0155,"h":0.0105},
{"n":4600,"a":0.1603,"b":0.146,"c":0.123,"d":0.1177,"e":0.0544,"f":0.0388,"g":0.0155,"h":0.0105},
{"n":4650,"a":0.1603,"b":0.146,"c":0.123,"d":0.1177,"e":0.0544,"f":0.0388,"g":0.0155,"h":0.0105},
{"n":4700,"a":0.1603,"b":0.146,"c":0.123,"d":0.1177,"e":0.0544,"f":0.0388,"g":0.0155,"h":0.0105},
{"n":4750,"a":0.1603,"b":0.146,"c":0.123,"d":0.1177,"e":0.0544,"f":0.0388,"g":0.0155,"h":0.0105},
{"n":4800,"a":0.1603,"b":0.146,"c":0.123,"d":0.1177,"e":0.0544,"f":0.0388,"g":0.0155,"h":0.0105},
{"n":4850,"a":0.1603,"b":0.146,"c":0.123,"d":0.1177,"e":0.0544,"f":0.0388,"g":0.0155,"h":0.0105},
{"n":4900,"a":0.1603,"b":0.146,"c":0.123,"d":0.118,"e":0.0544,"f":0.0388,"g":0.0155,"h":0.0105},
{"n":4950,"a":0.1603,"b":0.146,"c":0.123,"d":0.118,"e":0.0544,"f":0.0388,"g":0.0155,"h":0.0105},
{"n":5000,"a":0.1603,"b":0.146,"c":0.123,"d":0.118,"e":0.0544,"f":0.0388,"g":0.0155,"h":0.0105}
],
"D":[
{"n":0,"a":0.1616,"b":0.0928,"c":0.0392},{"n":23,"a":0.1678,"b":0.0939},{"n":31,"a":0.1627,"b":0.137,"c":0.0599},{"n":38,"a":0.1471,"b":0.0736},{"n":54,"a":0.1779,"b":0.1345,"c":0.0548},{"n":61,"a":0.1761},{"n":76,"a":0.1326,"b":0.053},{"n":92,"a":0.1743,"b":0.1308},{"n":107,"a":0.0512},{"n":115,"a":0.1652,"b":0.1337},{"n":130,"a":0.1707},{"n":138,"a":0.1243,"b":0.0867,"c":0.0439},{"n":153,"a":0.1544},{"n":168,"a":0.175,"b":0.1345,"c":0.1001,"d":0.0476},{"n":191,"a":0.184,"b":0.0432},{"n":199,"a":0.1334,"b":0.0903},{"n":214,"a":0.1786},{"n":222,"a":0.0403},{"n":229,"a":0.129,"b":0.0892},{"n":237,"a":0.1772},{"n":245,"a":0.0374},{"n":260,"a":0.1678,"b":0.1189,"c":0.0946},{"n":275,"a":0.0277},{"n":283,"a":0.1688,"b":0.0794},{"n":291,"a":0.1229},{"n":306,"a":0.1707,"b":0.0736,"c":0.027},{"n":321,"a":0.1127},{"n":336,"a":0.0892,"b":0.0548},
{"n":350,"a":0.1633,"b":0.1522,"c":0.1187,"d":0.1125,"e":0.0708,"f":0.051,"g":0.0191,"h":0.0162},
{"n":400,"a":0.1612,"b":0.1488,"c":0.1174,"d":0.1109,"e":0.0673,"f":0.0482,"g":0.0158,"h":0.012},
{"n":450,"a":0.1596,"b":0.1465,"c":0.1166,"d":0.1109,"e":0.0636,"f":0.047,"g":0.0136,"h":0.0105},
{"n":500,"a":0.1585,"b":0.1458,"c":0.1163,"d":0.1112,"e":0.0605,"f":0.0466,"g":0.013,"h":0.0103},
{"n":550,"a":0.1573,"b":0.1465,"c":0.116,"d":0.1119,"e":0.0585,"f":0.0469,"g":0.0125,"h":0.0103},
{"n":600,"a":0.1565,"b":0.1482,"c":0.1162,"d":0.1124,"e":0.0572,"f":0.0471,"g":0.0124,"h":0.0103},
{"n":650,"a":0.1562,"b":0.149,"c":0.1165,"d":0.1128,"e":0.0564,"f":0.0471,"g":0.0126,"h":0.0103},
{"n":700,"a":0.1566,"b":0.149,"c":0.1171,"d":0.1132,"e":0.0559,"f":0.0466,"g":0.0132,"h":0.0103},
{"n":750,"a":0.157,"b":0.148,"c":0.1178,"d":0.1137,"e":0.0557,"f":0.0457,"g":0.0136,"h":0.0103},
{"n":800,"a":0.1576,"b":0.1474,"c":0.1184,"d":0.114,"e":0.0556,"f":0.0447,"g":0.0139,"h":0.0103},
{"n":850,"a":0.158,"b":0.1466,"c":0.119,"d":0.1143,"e":0.0555,"f":0.044,"g":0.0142,"h":0.0103},
{"n":900,"a":0.1583,"b":0.146,"c":0.1196,"d":0.1146,"e":0.0554,"f":0.0432,"g":0.0144,"h":0.0103},
{"n":950,"a":0.1586,"b":0.1458,"c":0.12,"d":0.1149,"e":0.0552,"f":0.0426,"g":0.0146,"h":0.0103},
{"n":1000,"a":0.1589,"b":0.1457,"c":0.1204,"d":0.1152,"e":0.0551,"f":0.0421,"g":0.0148,"h":0.0103},
{"n":1050,"a":0.1591,"b":0.1457,"c":0.1207,"d":0.1154,"e":0.055,"f":0.0416,"g":0.0149,"h":0.0103},
{"n":1100,"a":0.1592,"b":0.1457,"c":0.121,"d":0.1156,"e":0.0549,"f":0.0412,"g":0.015,"h":0.0103},
{"n":1150,"a":0.1593,"b":0.1457,"c":0.1213,"d":0.1158,"e":0.0548,"f":0.0408,"g":0.015,"h":0.0103},
{"n":1200,"a":0.1594,"b":0.1457,"c":0.1215,"d":0.116,"e":0.0547,"f":0.0404,"g":0.015,"h":0.0103},
{"n":1250,"a":0.1595,"b":0.1457,"c":0.1217,"d":0.1161,"e":0.0546,"f":0.0401,"g":0.015,"h":0.0103},
{"n":1300,"a":0.1596,"b":0.1457,"c":0.1218,"d":0.1162,"e":0.0546,"f":0.0399,"g":0.015,"h":0.0103},
{"n":1350,"a":0.1597,"b":0.1457,"c":0.1218,"d":0.1164,"e":0.0545,"f":0.0397,"g":0.015,"h":0.0103},
{"n":1400,"a":0.1597,"b":0.1457,"c":0.1219,"d":0.1165,"e":0.0545,"f":0.0396,"g":0.015,"h":0.0103},
{"n":1450,"a":0.1598,"b":0.1457,"c":0.122,"d":0.1167,"e":0.0543,"f":0.0393,"g":0.015,"h":0.0103},
{"n":1500,"a":0.1598,"b":0.1457,"c":0.122,"d":0.1167,"e":0.0543,"f":0.0393,"g":0.015,"h":0.0103},
{"n":1550,"a":0.1598,"b":0.1457,"c":0.122,"d":0.1167,"e":0.0543,"f":0.0393,"g":0.015,"h":0.0103},
{"n":1600,"a":0.1598,"b":0.1457,"c":0.122,"d":0.1167,"e":0.0543,"f":0.0393,"g":0.015,"h":0.0103},
{"n":1650,"a":0.1598,"b":0.1457,"c":0.122,"d":0.1167,"e":0.0543,"f":0.0393,"g":0.015,"h":0.0103},
{"n":1700,"a":0.1598,"b":0.1457,"c":0.122,"d":0.1167,"e":0.0543,"f":0.0393,"g":0.015,"h":0.0103},
{"n":1750,"a":0.1598,"b":0.1457,"c":0.122,"d":0.1167,"e":0.0543,"f":0.0393,"g":0.015,"h":0.0103},
{"n":1800,"a":0.1598,"b":0.1457,"c":0.1223,"d":0.117,"e":0.054,"f":0.0391,"g":0.015,"h":0.0103},
{"n":1850,"a":0.1598,"b":0.1457,"c":0.1223,"d":0.117,"e":0.054,"f":0.0391,"g":0.015,"h":0.0103},
{"n":1900,"a":0.1598,"b":0.1457,"c":0.1223,"d":0.117,"e":0.054,"f":0.0391,"g":0.015,"h":0.0103},
{"n":1950,"a":0.1598,"b":0.1457,"c":0.1223,"d":0.117,"e":0.054,"f":0.0391,"g":0.015,"h":0.0103},
{"n":2000,"a":0.1598,"b":0.1457,"c":0.1223,"d":0.117,"e":0.054,"f":0.0391,"g":0.015,"h":0.0103},
{"n":2050,"a":0.1598,"b":0.1457,"c":0.1223,"d":0.117,"e":0.054,"f":0.0391,"g":0.015,"h":0.0103},
{"n":2100,"a":0.1598,"b":0.1457,"c":0.1223,"d":0.117,"e":0.054,"f":0.0391,"g":0.015,"h":0.0103},
{"n":2150,"a":0.1598,"b":0.1457,"c":0.1225,"d":0.1172,"e":0.0538,"f":0.0389,"g":0.015,"h":0.0103},
{"n":2200,"a":0.1598,"b":0.1457,"c":0.1225,"d":0.1172,"e":0.0538,"f":0.0389,"g":0.015,"h":0.0103},
{"n":2250,"a":0.1598,"b":0.1457,"c":0.1225,"d":0.1172,"e":0.0538,"f":0.0389,"g":0.015,"h":0.0103},
{"n":2300,"a":0.1598,"b":0.1457,"c":0.1225,"d":0.1172,"e":0.0538,"f":0.0389,"g":0.015,"h":0.0103},
{"n":2350,"a":0.1598,"b":0.1457,"c":0.1225,"d":0.1172,"e":0.0538,"f":0.0389,"g":0.015,"h":0.0103},
{"n":2400,"a":0.1598,"b":0.1457,"c":0.1225,"d":0.1172,"e":0.0538,"f":0.0389,"g":0.015,"h":0.0103},
{"n":2450,"a":0.1598,"b":0.1457,"c":0.1225,"d":0.1172,"e":0.0538,"f":0.0389,"g":0.015,"h":0.0103},
{"n":2500,"a":0.1598,"b":0.1457,"c":0.1225,"d":0.1172,"e":0.0538,"f":0.0389,"g":0.015,"h":0.0103},
{"n":2550,"a":0.1598,"b":0.1457,"c":0.1225,"d":0.1172,"e":0.0538,"f":0.0389,"g":0.015,"h":0.0103},
{"n":2600,"a":0.1598,"b":0.1457,"c":0.1225,"d":0.1172,"e":0.0538,"f":0.0389,"g":0.015,"h":0.0103},
{"n":2650,"a":0.1598,"b":0.1457,"c":0.1225,"d":0.1172,"e":0.0538,"f":0.0389,"g":0.015,"h":0.0103},
{"n":2700,"a":0.1598,"b":0.1457,"c":0.1225,"d":0.1172,"e":0.0538,"f":0.0389,"g":0.015,"h":0.0103},
{"n":2750,"a":0.1598,"b":0.1457,"c":0.1225,"d":0.1172,"e":0.0538,"f":0.0389,"g":0.015,"h":0.0103},
{"n":2800,"a":0.16,"b":0.1457,"c":0.1225,"d":0.1174,"e":0.0537,"f":0.0383,"g":0.015,"h":0.0103},
{"n":2850,"a":0.16,"b":0.1457,"c":0.1225,"d":0.1174,"e":0.0537,"f":0.0383,"g":0.015,"h":0.0103},
{"n":2900,"a":0.16,"b":0.1457,"c":0.1225,"d":0.1174,"e":0.0537,"f":0.0383,"g":0.015,"h":0.0103},
{"n":2950,"a":0.16,"b":0.1457,"c":0.1225,"d":0.1174,"e":0.0537,"f":0.0383,"g":0.015,"h":0.0103},
{"n":3000,"a":0.16,"b":0.1457,"c":0.1225,"d":0.1174,"e":0.0537,"f":0.0383,"g":0.015,"h":0.0103},
{"n":3050,"a":0.16,"b":0.1457,"c":0.1225,"d":0.1174,"e":0.0537,"f":0.0383,"g":0.015,"h":0.0103},
{"n":3100,"a":0.16,"b":0.1457,"c":0.1225,"d":0.1174,"e":0.0537,"f":0.0383,"g":0.015,"h":0.0103},
{"n":3150,"a":0.16,"b":0.1457,"c":0.1225,"d":0.1174,"e":0.0537,"f":0.0383,"g":0.015,"h":0.0103},
{"n":3200,"a":0.16,"b":0.1457,"c":0.1228,"d":0.1174,"e":0.0537,"f":0.0382,"g":0.015,"h":0.0103},
{"n":3250,"a":0.16,"b":0.1457,"c":0.1228,"d":0.1174,"e":0.0537,"f":0.0382,"g":0.015,"h":0.0103},
{"n":3300,"a":0.16,"b":0.1457,"c":0.1228,"d":0.1174,"e":0.0537,"f":0.0382,"g":0.015,"h":0.0103},
{"n":3350,"a":0.16,"b":0.1457,"c":0.1228,"d":0.1174,"e":0.0537,"f":0.0382,"g":0.015,"h":0.0103},
{"n":3400,"a":0.16,"b":0.1457,"c":0.1228,"d":0.1174,"e":0.0537,"f":0.0382,"g":0.015,"h":0.0103},
{"n":3450,"a":0.16,"b":0.1457,"c":0.1228,"d":0.1174,"e":0.0537,"f":0.0382,"g":0.015,"h":0.0103},
{"n":3500,"a":0.16,"b":0.1457,"c":0.1228,"d":0.1174,"e":0.0537,"f":0.0382,"g":0.015,"h":0.0103},
{"n":3550,"a":0.16,"b":0.1457,"c":0.1228,"d":0.1174,"e":0.0537,"f":0.0382,"g":0.015,"h":0.0103},
{"n":3600,"a":0.16,"b":0.1457,"c":0.1228,"d":0.1174,"e":0.0537,"f":0.0382,"g":0.015,"h":0.0103},
{"n":3650,"a":0.16,"b":0.1457,"c":0.1228,"d":0.1174,"e":0.0537,"f":0.0382,"g":0.015,"h":0.0103},
{"n":3700,"a":0.16,"b":0.1457,"c":0.1228,"d":0.1174,"e":0.0537,"f":0.0382,"g":0.015,"h":0.0103},
{"n":3750,"a":0.16,"b":0.1457,"c":0.1228,"d":0.1174,"e":0.0537,"f":0.0382,"g":0.015,"h":0.0103},
{"n":3800,"a":0.16,"b":0.1457,"c":0.1228,"d":0.1174,"e":0.0537,"f":0.0382,"g":0.015,"h":0.0103},
{"n":3850,"a":0.16,"b":0.1457,"c":0.1228,"d":0.1174,"e":0.0537,"f":0.0382,"g":0.015,"h":0.0103},
{"n":3900,"a":0.16,"b":0.1457,"c":0.1228,"d":0.1174,"e":0.0537,"f":0.0382,"g":0.015,"h":0.0103},
{"n":3950,"a":0.16,"b":0.1457,"c":0.1228,"d":0.1174,"e":0.0537,"f":0.0382,"g":0.015,"h":0.0103},
{"n":4000,"a":0.16,"b":0.1457,"c":0.1228,"d":0.1174,"e":0.0537,"f":0.0382,"g":0.015,"h":0.0103},
{"n":4050,"a":0.16,"b":0.1457,"c":0.1228,"d":0.1174,"e":0.0537,"f":0.0382,"g":0.015,"h":0.0103},
{"n":4100,"a":0.16,"b":0.1457,"c":0.1228,"d":0.1174,"e":0.0537,"f":0.0382,"g":0.015,"h":0.0103},
{"n":4150,"a":0.16,"b":0.1457,"c":0.1228,"d":0.1174,"e":0.0537,"f":0.0382,"g":0.015,"h":0.0103},
{"n":4200,"a":0.16,"b":0.1457,"c":0.1228,"d":0.1174,"e":0.0537,"f":0.0382,"g":0.015,"h":0.0103},
{"n":4250,"a":0.16,"b":0.1457,"c":0.1228,"d":0.1174,"e":0.0537,"f":0.0382,"g":0.015,"h":0.0103},
{"n":4300,"a":0.16,"b":0.1457,"c":0.1228,"d":0.1174,"e":0.0537,"f":0.0382,"g":0.015,"h":0.0103},
{"n":4350,"a":0.16,"b":0.1457,"c":0.1228,"d":0.1174,"e":0.0537,"f":0.0382,"g":0.015,"h":0.0103},
{"n":4400,"a":0.16,"b":0.1457,"c":0.1228,"d":0.1174,"e":0.0537,"f":0.0382,"g":0.015,"h":0.0103},
{"n":4450,"a":0.16,"b":0.1457,"c":0.1228,"d":0.1174,"e":0.0537,"f":0.0382,"g":0.015,"h":0.0103},
{"n":4500,"a":0.16,"b":0.1457,"c":0.1228,"d":0.1174,"e":0.0537,"f":0.0382,"g":0.015,"h":0.0103},
{"n":4550,"a":0.16,"b":0.1457,"c":0.1228,"d":0.1174,"e":0.0537,"f":0.0382,"g":0.015,"h":0.0103},
{"n":4600,"a":0.16,"b":0.1457,"c":0.1228,"d":0.1174,"e":0.0537,"f":0.0382,"g":0.015,"h":0.0103},
{"n":4650,"a":0.16,"b":0.1457,"c":0.1228,"d":0.1174,"e":0.0537,"f":0.0382,"g":0.015,"h":0.0103},
{"n":4700,"a":0.16,"b":0.1457,"c":0.1228,"d":0.1174,"e":0.0537,"f":0.0382,"g":0.015,"h":0.0103},
{"n":4750,"a":0.16,"b":0.1457,"c":0.1228,"d":0.1174,"e":0.0537,"f":0.0382,"g":0.015,"h":0.0103},
{"n":4800,"a":0.16,"b":0.1457,"c":0.1228,"d":0.1174,"e":0.0537,"f":0.0382,"g":0.015,"h":0.0103},
{"n":4850,"a":0.16,"b":0.1457,"c":0.1228,"d":0.1174,"e":0.0537,"f":0.0382,"g":0.015,"h":0.0103},
{"n":4900,"a":0.16,"b":0.1457,"c":0.1228,"d":0.1174,"e":0.0537,"f":0.0382,"g":0.015,"h":0.0103},
{"n":4950,"a":0.16,"b":0.1457,"c":0.1228,"d":0.1174,"e":0.0537,"f":0.0382,"g":0.015,"h":0.0103},
{"n":5000,"a":0.16,"b":0.1457,"c":0.1228,"d":0.1174,"e":0.0537,"f":0.0382,"g":0.015,"h":0.0103}
],
"E":[
{"n":0,"a":0.1005},{"n":8,"a":0.1444,"b":0.1266},{"n":23,"a":0.1666,"b":0.0902},{"n":38,"a":0.1412,"b":0.1198},{"n":54,"a":0.1664,"b":0.0813},{"n":61,"a":0.1356,"b":0.1121},{"n":77,"a":0.1619,"b":0.0757},{"n":92,"a":0.1337,"b":0.0952},{"n":100,"a":0.1551,"b":0.071},{"n":115,"a":0.1313,"b":0.0811},{"n":130,"a":0.1431,"b":0.0667},{"n":138,"a":0.1281},{"n":146,"a":0.0742},{"n":153,"a":0.0646},{"n":161,"a":0.1347},{"n":169,"a":0.0721},{"n":176,"a":0.1251},{"n":184,"a":0.0641},{"n":192,"a":0.1384},{"n":199,"a":0.0703},{"n":207,"a":0.0785},{"n":215,"a":0.1292},{"n":230,"a":0.1341,"b":0.0924},{"n":245,"a":0.1251,"b":0.0877},{"n":261,"a":0.1427,"b":0.1123},{"n":268,"a":0.1544},{"n":276,"a":0.1196},{"n":284,"a":0.1581},{"n":291,"a":0.1373},{"n":299,"a":0.1519},{"n":307,"a":0.1459},{"n":315,"a":0.1485,"b":0.151},{"n":325,"a":0.149,"b":0.1502},
{"n":300,"a":0.1495},{"n":350,"a":0.1495},{"n":400,"a":0.1495},{"n":450,"a":0.1495},{"n":500,"a":0.1495},{"n":550,"a":0.1495},{"n":600,"a":0.1495},{"n":650,"a":0.1495},{"n":700,"a":0.1495},{"n":750,"a":0.1495},{"n":800,"a":0.1495},{"n":850,"a":0.1495},{"n":900,"a":0.1495},{"n":950,"a":0.1495},{"n":1000,"a":0.1495},{"n":1050,"a":0.1495},{"n":1100,"a":0.1495},{"n":1150,"a":0.1495},{"n":1200,"a":0.1495},{"n":1250,"a":0.1495},{"n":1300,"a":0.1495},{"n":1350,"a":0.1495},{"n":1400,"a":0.1495},{"n":1450,"a":0.1495},{"n":1500,"a":0.1495},{"n":1550,"a":0.1495},{"n":1600,"a":0.1495},{"n":1650,"a":0.1495},{"n":1700,"a":0.1495},{"n":1750,"a":0.1495},{"n":1800,"a":0.1495},{"n":1850,"a":0.1495},{"n":1900,"a":0.1495},{"n":1950,"a":0.1495},{"n":2000,"a":0.1495},{"n":2050,"a":0.1495},{"n":2100,"a":0.1495},{"n":2150,"a":0.1495},{"n":2200,"a":0.1495},{"n":2250,"a":0.1495},{"n":2300,"a":0.1495},{"n":2350,"a":0.1495},{"n":2400,"a":0.1495},{"n":2450,"a":0.1495},{"n":2500,"a":0.1495},{"n":2550,"a":0.1495},{"n":2600,"a":0.1495},{"n":2650,"a":0.1495},{"n":2700,"a":0.1495},{"n":2750,"a":0.1495},{"n":2800,"a":0.1495},{"n":2850,"a":0.1495},{"n":2900,"a":0.1495},{"n":2950,"a":0.1495},{"n":3000,"a":0.1495},{"n":3050,"a":0.1495},{"n":3100,"a":0.1495},{"n":3150,"a":0.1495},{"n":3200,"a":0.1495},{"n":3250,"a":0.1495},{"n":3300,"a":0.1495},{"n":3350,"a":0.1495},{"n":3400,"a":0.1495},{"n":3450,"a":0.1495},{"n":3500,"a":0.1495},{"n":3550,"a":0.1495},{"n":3600,"a":0.1495},{"n":3650,"a":0.1495},{"n":3700,"a":0.1495},{"n":3750,"a":0.1495},{"n":3800,"a":0.1495},{"n":3850,"a":0.1495},{"n":3900,"a":0.1495},{"n":3950,"a":0.1495},{"n":4000,"a":0.1495},{"n":4050,"a":0.1495},{"n":4100,"a":0.1495},{"n":4150,"a":0.1495},{"n":4200,"a":0.1495},{"n":4250,"a":0.1495},{"n":4300,"a":0.1495},{"n":4350,"a":0.1495},{"n":4400,"a":0.1495},{"n":4450,"a":0.1495},{"n":4500,"a":0.1495},{"n":4550,"a":0.1495},{"n":4600,"a":0.1495},{"n":4650,"a":0.1495},{"n":4700,"a":0.1495},{"n":4750,"a":0.1495},{"n":4800,"a":0.1495},{"n":4850,"a":0.1495},{"n":4900,"a":0.1495},{"n":4950,"a":0.1495},{"n":5000,"a":0.1495}
],
"T":[
{"k":"L","line":1,"t":"Fig.\u00a06.\u00a0\u00a0Branching\u00a0diagrams\u00a0as"},
{"k":"R","line":1,"t":"a"},
{"k":"L","line":2,"t":"function\u00a0\u00a0\u00a0\u00a0of\u00a0\u00a0\u00a0\u00a0the\u00a0\u00a0\u00a0\u00a0number"},
{"k":"R","line":2,"t":"of"},
{"k":"L","line":3,"t":"iterations\u00a0at\u00a0different\u00a0numbers"},
{"k":"R","line":3,"t":"of"},
{"k":"L","line":4,"t":"hidden\u00a0layers,\u00a0\u00a0a)\u00a0-\u00a03;\u00a0b)\u00a0-\u00a0\u00a04;\u00a0c)"},
{"k":"R","line":4,"t":"-"},
{"k":"L","line":5,"t":"5;\u00a0\u00a0\u00a0d)\u00a0\u00a0-\u00a0\u00a0\u00a06;\u00a0\u00a0e)\u00a0\u00a0\u00a0-\u00a0\u00a07,\u00a0\u00a0\u00a0under"},
{"k":"R","line":5,"t":"the"},
{"k":"L","line":6,"t":"condition"},
{"k":"B1","line":6,"t":"β1"},
{"k":"N1","line":6,"t":"=0.9,"},
{"k":"B2","line":6,"t":"β2"},
{"k":"R","line":6,"t":"=0.999,"},
{"k":"B3","line":7,"t":"alpha"},
{"k":"N2","line":7,"t":"=0.0017,\u00a0for\u00a0\u00a0the\u00a0digit"},
{"k":"R","line":7,"t":"\"0\","},
{"k":"L","line":8,"t":"when\u00a0\u00a0\u00a0\u00a0\u00a0using\u00a0\u00a0\u00a0\u00a0the"},
{"k":"R","line":8,"t":"AMSGrad"},
{"k":"L","line":9,"t":"optimization method."}
]
},
"concat":[
{"width":337,"height":285,"resolve":{"scale":{"x":"independent","y":"independent"}},
"layer":[
{"data":{"name":"A"},"transform":[{"fold":["a","b","c","d","e","f","g","h","i","j"],"as":["k","v"]}],
"mark":{"type":"circle","size":6,"color":"#1f77b4","opacity":1},
"encoding":{
"x":{"field":"n","type":"quantitative","scale":{"domain":[-250,5250],"range":[51.8,291.9],"nice":false,"zero":false},"axis":{"orient":"bottom","offset":-81,"values":[0,1000,2000,3000,4000,5000],"format":"d","title":"N"}},
"y":{"field":"v","type":"quantitative","scale":{"domain":[0.012,0.2082],"range":[204,28],"nice":false,"zero":false},"axis":{"orient":"left","offset":-51.8,"values":[0.025,0.05,0.075,0.1,0.125,0.15,0.175,0.2],"format":".3f","title":"x"}}}},
{"data":{"values":[{"n":0,"v":0}]},"mark":{"type":"point","opacity":0},
"encoding":{
"x":{"field":"n","type":"quantitative","scale":{"domain":[0,1],"range":[51.8,133]},"axis":{"orient":"top","offset":-28,"ticks":false,"labels":false,"domainColor":"#555","title":"Діа","titleAnchor":"end","titleAlign":"right","titleFontSize":9,"titlePadding":2}},
"y":{"field":"v","type":"quantitative","scale":{"domain":[0,1],"range":[204,36]},"axis":{"orient":"right","offset":-45.1,"ticks":false,"labels":false,"title":null,"domainColor":"#b4b4b4","domainWidth":2}}}},
{"data":{"values":[{"t":"a) hidden layers=3,"}]},"mark":{"type":"text","style":"cap","align":"center","x":168.5,"y":258},"encoding":{"text":{"field":"t"}}},
{"data":{"values":[{"t":"iterations=5000,"}]},"mark":{"type":"text","style":"cap","align":"right","x":175.5,"y":278.5},"encoding":{"text":{"field":"t"}}},
{"data":{"values":[{"t":"alpha"}]},"mark":{"type":"text","style":"capb","align":"left","x":181.5,"y":278.5},"encoding":{"text":{"field":"t"}}},
{"data":{"values":[{"t":"=0.0017"}]},"mark":{"type":"text","style":"cap","align":"left","x":238.9,"y":278.5},"encoding":{"text":{"field":"t"}}}
]},
{"width":349,"height":285,"resolve":{"scale":{"x":"independent","y":"independent"}},
"layer":[
{"data":{"name":"B"},"transform":[{"fold":["a","b","c","d","e","f","g","h"],"as":["k","v"]}],
"mark":{"type":"circle","size":6,"color":"#1f77b4","opacity":1},
"encoding":{
"x":{"field":"n","type":"quantitative","scale":{"domain":[-250,5250],"range":[53.2,285.6],"nice":false,"zero":false},"axis":{"orient":"bottom","offset":-81,"values":[0,1000,2000,3000,4000,5000],"format":"d","title":"N"}},
"y":{"field":"v","type":"quantitative","scale":{"domain":[-0.157,0.1765],"range":[204,28],"nice":false,"zero":false},"axis":{"orient":"left","offset":-53.2,"values":[-0.15,-0.1,-0.05,0,0.05,0.1,0.15],"format":".2f","title":"x"}}}},
{"data":{"values":[{"n":0,"v":0}]},"mark":{"type":"point","opacity":0},
"encoding":{
"x":{"field":"n","type":"quantitative","scale":{"domain":[0,1],"range":[53.2,124]},"axis":{"orient":"top","offset":-28,"ticks":false,"labels":false,"domainColor":"#555","title":"Д","titleAnchor":"end","titleAlign":"right","titleFontSize":9,"titlePadding":2}},
"y":{"field":"v","type":"quantitative","scale":{"domain":[0,1],"range":[204,36]},"axis":{"orient":"right","offset":-63.4,"ticks":false,"labels":false,"title":null,"domainColor":"#b4b4b4","domainWidth":2}}}},
{"data":{"values":[{"t":"b) hidden layers=4,"}]},"mark":{"type":"text","style":"cap","align":"center","x":174.5,"y":258},"encoding":{"text":{"field":"t"}}},
{"data":{"values":[{"t":"iterations=5000,"}]},"mark":{"type":"text","style":"cap","align":"right","x":181.5,"y":278.5},"encoding":{"text":{"field":"t"}}},
{"data":{"values":[{"t":"alpha"}]},"mark":{"type":"text","style":"capb","align":"left","x":187.5,"y":278.5},"encoding":{"text":{"field":"t"}}},
{"data":{"values":[{"t":"=0.0017"}]},"mark":{"type":"text","style":"cap","align":"left","x":244.9,"y":278.5},"encoding":{"text":{"field":"t"}}}
]},
{"width":345,"height":285,"resolve":{"scale":{"x":"independent","y":"independent"}},
"layer":[
{"data":{"name":"C"},"transform":[{"fold":["a","b","c","d","e","f","g","h"],"as":["k","v"]}],
"mark":{"type":"circle","size":6,"color":"#1f77b4","opacity":1},
"encoding":{
"x":{"field":"n","type":"quantitative","scale":{"domain":[-250,5250],"range":[53.5,292.5],"nice":false,"zero":false},"axis":{"orient":"bottom","offset":-81,"values":[0,1000,2000,3000,4000,5000],"format":"d","title":"N"}},
"y":{"field":"v","type":"quantitative","scale":{"domain":[0.0016,0.178],"range":[204,28],"nice":false,"zero":false},"axis":{"orient":"left","offset":-53.5,"values":[0.02,0.04,0.06,0.08,0.1,0.12,0.14,0.16],"format":".2f","title":"x"}}}},
{"data":{"values":[{"n":0,"v":0}]},"mark":{"type":"point","opacity":0},
"encoding":{
"x":{"field":"n","type":"quantitative","scale":{"domain":[0,1],"range":[53.5,139]},"axis":{"orient":"top","offset":-28,"ticks":false,"labels":false,"domainColor":"#555","title":"Діаг","titleAnchor":"end","titleAlign":"right","titleFontSize":9,"titlePadding":2}},
"y":{"field":"v","type":"quantitative","scale":{"domain":[0,1],"range":[204,36]},"axis":{"orient":"right","offset":-52.5,"ticks":false,"labels":false,"title":null,"domainColor":"#b4b4b4","domainWidth":2}}}},
{"data":{"values":[{"t":"c) hidden layers=5,"}]},"mark":{"type":"text","style":"cap","align":"center","x":172.5,"y":258},"encoding":{"text":{"field":"t"}}},
{"data":{"values":[{"t":"iterations=5000,"}]},"mark":{"type":"text","style":"cap","align":"right","x":179.5,"y":278.5},"encoding":{"text":{"field":"t"}}},
{"data":{"values":[{"t":"alpha"}]},"mark":{"type":"text","style":"capb","align":"left","x":185.5,"y":278.5},"encoding":{"text":{"field":"t"}}},
{"data":{"values":[{"t":"=0.0017"}]},"mark":{"type":"text","style":"cap","align":"left","x":242.9,"y":278.5},"encoding":{"text":{"field":"t"}}}
]},
{"width":337,"height":283,"resolve":{"scale":{"x":"independent","y":"independent"}},
"layer":[
{"data":{"name":"D"},"transform":[{"fold":["a","b","c","d","e","f","g","h"],"as":["k","v"]}],
"mark":{"type":"circle","size":6,"color":"#1f77b4","opacity":1},
"encoding":{
"x":{"field":"n","type":"quantitative","scale":{"domain":[-250,5250],"range":[51.8,291.6],"nice":false,"zero":false},"axis":{"orient":"bottom","offset":-80.7,"values":[0,1000,2000,3000,4000,5000],"format":"d","title":"N"}},
"y":{"field":"v","type":"quantitative","scale":{"domain":[0.0015,0.1931],"range":[202.3,26],"nice":false,"zero":false},"axis":{"orient":"left","offset":-51.8,"values":[0.025,0.05,0.075,0.1,0.125,0.15,0.175],"format":".3f","title":"x"}}}},
{"data":{"values":[{"n":0,"v":0}]},"mark":{"type":"point","opacity":0},
"encoding":{
"x":{"field":"n","type":"quantitative","scale":{"domain":[0,1],"range":[51.8,126]},"axis":{"orient":"top","offset":-26,"ticks":false,"labels":false,"domainColor":"#555","title":"Д","titleAnchor":"end","titleAlign":"right","titleFontSize":9,"titlePadding":2}},
"y":{"field":"v","type":"quantitative","scale":{"domain":[0,1],"range":[202.3,31.7]},"axis":{"orient":"right","offset":-45.4,"ticks":false,"labels":false,"title":null,"domainColor":"#b4b4b4","domainWidth":2}}}},
{"data":{"values":[{"t":"d) hidden layers=6,"}]},"mark":{"type":"text","style":"cap","align":"center","x":168.5,"y":256},"encoding":{"text":{"field":"t"}}},
{"data":{"values":[{"t":"iterations=5000,"}]},"mark":{"type":"text","style":"cap","align":"right","x":175.5,"y":277},"encoding":{"text":{"field":"t"}}},
{"data":{"values":[{"t":"alpha"}]},"mark":{"type":"text","style":"capb","align":"left","x":181.5,"y":277},"encoding":{"text":{"field":"t"}}},
{"data":{"values":[{"t":"=0.0017"}]},"mark":{"type":"text","style":"cap","align":"left","x":238.9,"y":277},"encoding":{"text":{"field":"t"}}}
]},
{"width":349,"height":283,"resolve":{"scale":{"x":"independent","y":"independent"}},
"layer":[
{"data":{"name":"E"},"transform":[{"fold":["a","b"],"as":["k","v"]}],
"mark":{"type":"circle","size":6,"color":"#1f77b4","opacity":1},
"encoding":{
"x":{"field":"n","type":"quantitative","scale":{"domain":[-250,5250],"range":[54,293],"nice":false,"zero":false},"axis":{"orient":"bottom","offset":-80.7,"values":[0,1000,2000,3000,4000,5000],"format":"d","title":"N"}},
"y":{"field":"v","type":"quantitative","scale":{"domain":[0.0587,0.172],"range":[202.3,26],"nice":false,"zero":false},"axis":{"orient":"left","offset":-54,"values":[0.06,0.08,0.1,0.12,0.14,0.16],"format":".2f","title":"x"}}}},
{"data":{"values":[{"n":0,"v":0}]},"mark":{"type":"point","opacity":0},
"encoding":{
"x":{"field":"n","type":"quantitative","scale":{"domain":[0,1],"range":[54,118]},"axis":{"orient":"top","offset":-26,"ticks":false,"labels":false,"domainColor":"#555","title":null}},
"y":{"field":"v","type":"quantitative","scale":{"domain":[0,1],"range":[202.3,26]},"axis":{"orient":"right","offset":-56,"ticks":false,"labels":false,"title":null,"domainColor":"#b4b4b4","domainWidth":2}}}},
{"data":{"values":[{"t":"e) hidden layers=7,"}]},"mark":{"type":"text","style":"cap","align":"center","x":174.5,"y":256},"encoding":{"text":{"field":"t"}}},
{"data":{"values":[{"t":"iterations=5000,"}]},"mark":{"type":"text","style":"cap","align":"right","x":181.5,"y":277},"encoding":{"text":{"field":"t"}}},
{"data":{"values":[{"t":"alpha"}]},"mark":{"type":"text","style":"capb","align":"left","x":187.5,"y":277},"encoding":{"text":{"field":"t"}}},
{"data":{"values":[{"t":"=0.0017"}]},"mark":{"type":"text","style":"cap","align":"left","x":244.9,"y":277},"encoding":{"text":{"field":"t"}}}
]},
{"width":345,"height":283,"data":{"name":"T"},
"encoding":{"y":{"field":"line","type":"quantitative","scale":{"domain":[1,9],"range":[19,205]},"axis":null},"text":{"field":"t"}},
"layer":[
{"transform":[{"filter":"datum.k=='L'"}],"mark":{"type":"text","style":"tx","align":"left","x":9}},
{"transform":[{"filter":"datum.k=='R'"}],"mark":{"type":"text","style":"tx","align":"right","x":337}},
{"transform":[{"filter":"datum.k=='B1'"}],"mark":{"type":"text","style":"txb","align":"right","x":156.1}},
{"transform":[{"filter":"datum.k=='N1'"}],"mark":{"type":"text","style":"tx","align":"left","x":156.1}},
{"transform":[{"filter":"datum.k=='B2'"}],"mark":{"type":"text","style":"txb","align":"right","x":260.4}},
{"transform":[{"filter":"datum.k=='B3'"}],"mark":{"type":"text","style":"txb","align":"left","x":9}},
{"transform":[{"filter":"datum.k=='N2'"}],"mark":{"type":"text","style":"tx","align":"left","x":68.75}}
]}
],
"config":{
"view":{"stroke":"black","strokeWidth":2,"fill":null},
"axis":{"grid":false,"labelFont":"DejaVu Sans","labelFontSize":6.2,"labelColor":"#333","labelFlush":false,"labelOverlap":false,"labelPadding":1.5,"titleFont":"DejaVu Sans","titleFontSize":6.2,"titleFontWeight":"normal","titleColor":"#333","titlePadding":3,"tickColor":"#555","tickSize":3.5,"tickWidth":0.8,"domainColor":"#8a8a8a","domainWidth":1},
"style":{
"cap":{"font":"Liberation Serif","fontSize":24,"baseline":"alphabetic","fill":"black"},
"capb":{"font":"Liberation Serif","fontSize":24,"fontWeight":"bold","baseline":"alphabetic","fill":"black"},
"tx":{"font":"Liberation Serif","fontSize":25,"baseline":"alphabetic","fill":"black"},
"txb":{"font":"Liberation Serif","fontSize":25,"fontWeight":"bold","baseline":"alphabetic","fill":"black"}
}
}
}
